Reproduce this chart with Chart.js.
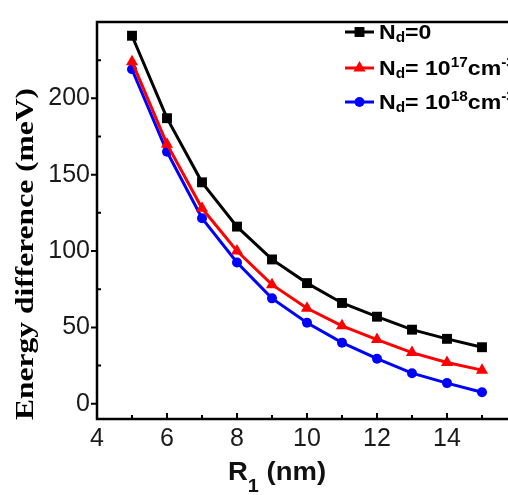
<!DOCTYPE html>
<html>
<head>
<meta charset="utf-8">
<script src="https://cdn.jsdelivr.net/npm/chart.js@4.4.1/dist/chart.umd.min.js"></script>
<style>
    html, body { margin: 0; padding: 0; background: #fff; overflow: hidden; }
    #chart_container { position: relative; width: 530px; height: 495px; }
</style>
</head>
<body>
<div id="chart_container">
    <canvas id="energy_chart" width="530" height="495"></canvas>
</div>
<script>
    // R1 (nm) and energy difference (meV)
    const radii = [5, 6, 7, 8, 9, 10, 11, 12, 13, 14, 15];
    const nd0   = [241, 187, 145, 116, 94.5, 79, 66, 57, 48.5, 42.5, 37];
    const nd17  = [224, 170, 128, 100, 78, 62.5, 51, 42, 33.5, 27, 22];
    const nd18  = [219, 165, 121.5, 92.5, 69, 53, 40, 29.5, 20, 13.5, 7.5];

    const xTicks = [4, 6, 8, 10, 12, 14, 16];
    const xMinor = [5, 7, 9, 11, 13, 15];
    const yTicks = [0, 50, 100, 150, 200];
    const yMinor = [25, 75, 125, 175, 225];

    // legend texts: [text, 'sub' | 'sup' | '']
    const legendTexts = [
        [['N', ''], ['d', 'sub'], ['=0', '']],
        [['N', ''], ['d', 'sub'], ['= 10', ''], ['17', 'sup'], ['cm', ''], ['-3', 'sup']],
        [['N', ''], ['d', 'sub'], ['= 10', ''], ['18', 'sup'], ['cm', ''], ['-3', 'sup']],
    ];

    const series = [
        { data: nd0,  color: '#000000', style: 'rect',     radius: 7 },
        { data: nd17, color: '#ff0000', style: 'triangle', radius: 7 },
        { data: nd18, color: '#0000ff', style: 'circle',   radius: 5 },
    ];

    // draws text pieces with sub/superscripts, stretched by sx horizontally
    function drawRich(ctx, parts, x, y, size, subSize, subDy, supDy, sx) {
        ctx.save();
        ctx.translate(x, y);
        ctx.scale(sx, 1);
        ctx.textAlign = 'left';
        ctx.textBaseline = 'alphabetic';
        let cx = 0;
        parts.forEach(function (p) {
            let fs = size, dy = 0;
            if (p[1] === 'sub') { fs = subSize; dy = subDy; }
            if (p[1] === 'sup') { fs = subSize; dy = supDy; }
            ctx.font = 'bold ' + fs + 'px "Liberation Sans", Arial, sans-serif';
            ctx.fillText(p[0], cx, dy);
            cx += ctx.measureText(p[0]).width;
        });
        ctx.restore();
    }

    function drawMarker(ctx, style, r, x, y) {
        ctx.beginPath();
        if (style === 'rect') {
            const s = r * Math.SQRT1_2;
            ctx.rect(x - s, y - s, 2 * s, 2 * s);
        } else if (style === 'triangle') {
            ctx.moveTo(x, y - r);
            ctx.lineTo(x + r * 0.866, y + r * 0.5);
            ctx.lineTo(x - r * 0.866, y + r * 0.5);
            ctx.closePath();
        } else {
            ctx.arc(x, y, r, 0, Math.PI * 2);
        }
        ctx.fill();
    }

    const framePlugin = {
        id: 'frame',
        afterDraw(chart) {
            const ctx = chart.ctx;
            const a = chart.chartArea;
            const xs = chart.scales.x;
            const ys = chart.scales.y;
            ctx.save();
            ctx.strokeStyle = '#000';
            ctx.lineWidth = 2.5;
            ctx.strokeRect(a.left, a.top, a.right - a.left, a.bottom - a.top);

            ctx.lineWidth = 2;
            ctx.beginPath();
            yTicks.forEach(function (v) {
                const py = ys.getPixelForValue(v);
                ctx.moveTo(a.left - 6, py); ctx.lineTo(a.left, py);
            });
            yMinor.forEach(function (v) {
                const py = ys.getPixelForValue(v);
                ctx.moveTo(a.left, py); ctx.lineTo(a.left + 4, py);
            });
            xTicks.forEach(function (v) {
                const px = xs.getPixelForValue(v);
                ctx.moveTo(px, a.bottom); ctx.lineTo(px, a.bottom - 6);
            });
            xMinor.forEach(function (v) {
                const px = xs.getPixelForValue(v);
                ctx.moveTo(px, a.bottom); ctx.lineTo(px, a.bottom - 4);
            });
            ctx.stroke();

            // y title
            ctx.fillStyle = '#000';
            ctx.save();
            ctx.translate(27, 254);
            ctx.rotate(-Math.PI / 2);
            ctx.font = 'bold 25px "Liberation Serif", "Times New Roman", serif';
            const title = 'Energy difference (meV)';
            const w = ctx.measureText(title).width;
            ctx.scale(332 / w, 1);
            ctx.textAlign = 'center';
            ctx.textBaseline = 'middle';
            ctx.fillText(title, 0, 0);
            ctx.restore();

            // x title
            ctx.fillStyle = '#111';
            drawRich(ctx, [['R', ''], ['1', 'sub'], [' (nm)', '']], 228, 480, 25, 18, 12, 0, 1.1);

            // legend
            const rows = [32, 68, 102];
            series.forEach(function (s, i) {
                const y = rows[i];
                ctx.strokeStyle = s.color;
                ctx.fillStyle = s.color;
                ctx.lineWidth = 3;
                ctx.beginPath();
                ctx.moveTo(345, y); ctx.lineTo(374, y);
                ctx.stroke();
                drawMarker(ctx, s.style, s.radius, 359.5, y);
                ctx.fillStyle = '#000';
                drawRich(ctx, legendTexts[i], 379, y + 7, 21, 14, 3, -8, 1.1);
            });
            ctx.restore();
        }
    };

    const tickFont = { family: '"Liberation Sans", Arial, sans-serif', size: 25 };

    new Chart(document.getElementById('energy_chart'), {
        type: 'line',
        data: {
            datasets: series.map(function (s) {
                return {
                    data: radii.map(function (r, i) { return { x: r, y: s.data[i] }; }),
                    borderColor: s.color,
                    backgroundColor: s.color,
                    borderWidth: 3,
                    pointStyle: s.style,
                    pointRadius: s.radius,
                    pointBorderWidth: 0,
                    tension: 0,
                };
            })
        },
        options: {
            responsive: false,
            animation: false,
            layout: { padding: { top: 14, right: 13, left: 0, bottom: 0 } },
            plugins: { legend: { display: false }, tooltip: { enabled: false } },
            scales: {
                x: {
                    type: 'linear',
                    min: 4,
                    max: 16,
                    grid: { display: false, drawTicks: false },
                    border: { display: false },
                    afterBuildTicks: function (s) { s.ticks = xTicks.map(function (v) { return { value: v }; }); },
                    ticks: {
                        font: tickFont,
                        color: '#1a1a1a',
                        padding: 5,
                        maxRotation: 0,
                        callback: function (v) { return v === 16 ? '' : v; }
                    },
                    afterFit: function (s) { s.height = 76; }
                },
                y: {
                    type: 'linear',
                    min: -10,
                    max: 250,
                    grid: { display: false, drawTicks: false },
                    border: { display: false },
                    afterBuildTicks: function (s) { s.ticks = yTicks.map(function (v) { return { value: v }; }); },
                    ticks: { font: tickFont, color: '#1a1a1a', padding: 7 },
                    afterFit: function (s) { s.width = 97; }
                }
            }
        },
        plugins: [framePlugin]
    });
</script>
</body>
</html>
